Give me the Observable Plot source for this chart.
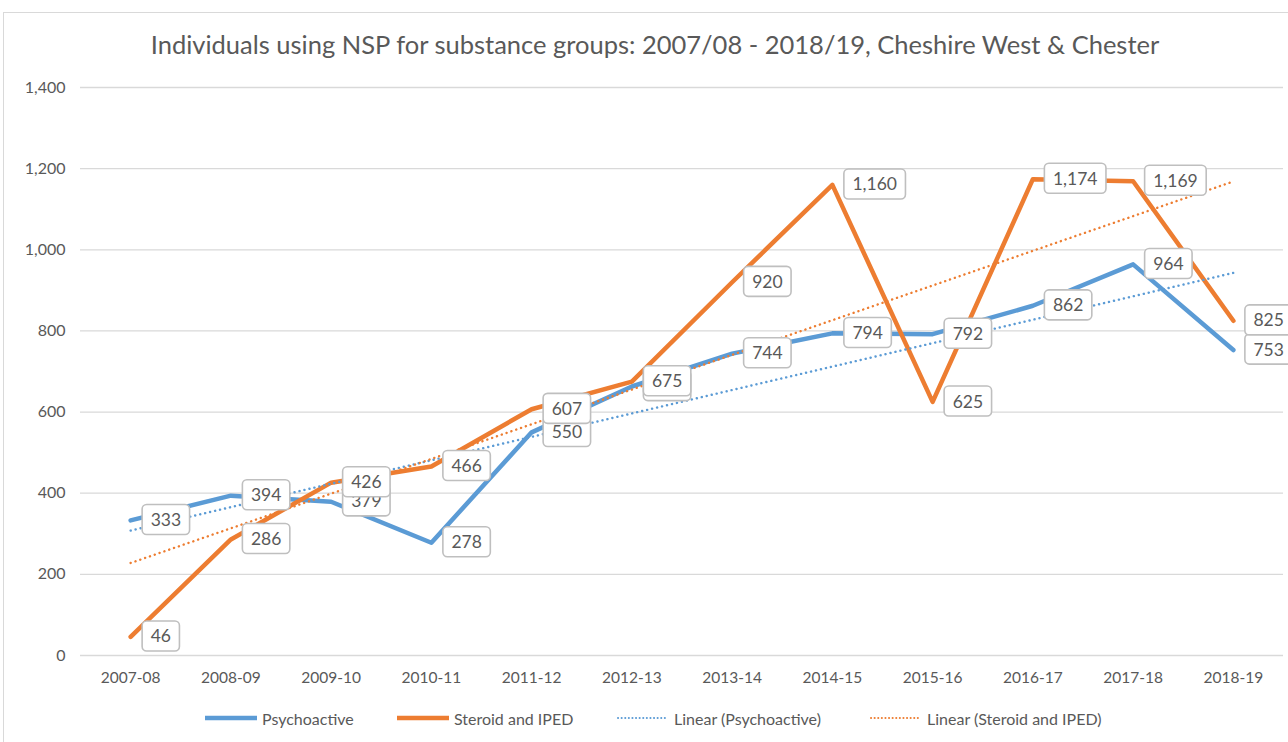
<!DOCTYPE html>
<html>
<head>
<meta charset="utf-8">
<script src="https://cdn.jsdelivr.net/npm/d3@7"></script>
<script src="https://cdn.jsdelivr.net/npm/@observablehq/plot@0.6"></script>
<style>
  html, body { margin: 0; padding: 0; background: #fff; width: 1288px; height: 742px; overflow: hidden; }
  #frame { position: absolute; left: 3px; top: 12px; width: 1300px; height: 760px; border: 1px solid #d9d9d9; box-sizing: border-box; }
  #title { position: absolute; left: 0; top: 29px; width: 1310px; text-align: center; font-family: Lato, "Open Sans", sans-serif; font-size: 25.5px; color: #595959; }
  #chart { position: absolute; left: 0; top: 70px; }
  #legend { position: absolute; top: 707px; left: 0; width: 1288px; height: 24px; font-family: Lato, sans-serif; font-size: 16px; color: #595959; }
  .li { position: absolute; top: 0; display: flex; align-items: center; height: 22px; white-space: nowrap; }
  .li svg { margin-right: 4px; }
</style>
</head>
<body>
<div id="frame"></div>
<div id="title">Individuals using NSP for substance groups: 2007/08 - 2018/19, Cheshire West &amp; Chester</div>
<div id="chart"></div>
<div id="legend"></div>
<script>
const categories = ["2007-08","2008-09","2009-10","2010-11","2011-12","2012-13","2013-14","2014-15","2015-16","2016-17","2017-18","2018-19"];
const psychoactive = [333, 394, 379, 278, 550, 663, 744, 794, 792, 862, 964, 753];
const steroid = [46, 286, 426, 466, 607, 675, 920, 1160, 625, 1174, 1169, 825];
const yTicks = [0, 200, 400, 600, 800, 1000, 1200, 1400];
const seriesNames = ["Psychoactive", "Steroid and IPED", "Linear (Psychoactive)", "Linear (Steroid and IPED)"];
const colors = ["#5B9BD5", "#ED7D31"];

const psyRows = categories.map((c, i) => ({i, cat: c, value: psychoactive[i]}));
const steRows = categories.map((c, i) => ({i, cat: c, value: steroid[i]}));
const fmt = d3.format(",");

const chart = Plot.plot({
  width: 1288,
  height: 620,
  marginTop: 17,
  marginBottom: 35,
  marginLeft: 80,
  marginRight: 5,
  style: {fontFamily: "Lato, sans-serif", fontSize: "15px", color: "#595959", background: "transparent"},
  x: {domain: [-0.5, 11.5]},
  y: {domain: [0, 1400]},
  marks: [
    Plot.gridY(yTicks, {stroke: "#d9d9d9", strokeOpacity: 1, strokeWidth: 1.3}),
    Plot.axisY(yTicks, {tickSize: 0, tickPadding: 15, tickFormat: fmt, label: null, fontSize: 16, fill: "#595959"}),
    Plot.axisX(d3.range(12), {tickSize: 0, tickPadding: 16, tickFormat: i => categories[i], label: null, fontSize: 15.5, fill: "#595959"}),
    Plot.lineY(psyRows, {x: "i", y: "value", stroke: colors[0], strokeWidth: 4.5}),
    Plot.lineY(steRows, {x: "i", y: "value", stroke: colors[1], strokeWidth: 4.5}),
    Plot.linearRegressionY(psyRows, {x: "i", y: "value", stroke: colors[0], strokeWidth: 2.4, strokeDasharray: "0.1,5", strokeLinecap: "round", ci: 0}),
    Plot.linearRegressionY(steRows, {x: "i", y: "value", stroke: colors[1], strokeWidth: 2.4, strokeDasharray: "0.1,5", strokeLinecap: "round", ci: 0}),
    Plot.text(psyRows, {x: "i", y: "value", text: d => fmt(d.value), textAnchor: "start", dx: 20, fontSize: 17.5, fill: "#595959", className: "dlabel"}),
    Plot.text(steRows, {x: "i", y: "value", text: d => fmt(d.value), textAnchor: "start", dx: 20, fontSize: 17.5, fill: "#595959", className: "dlabel"})
  ]
});
document.getElementById("chart").appendChild(chart);

// rounded boxes behind the data labels
document.querySelectorAll("#chart g.dlabel text").forEach(t => {
  const b = t.getBBox();
  const r = document.createElementNS("http://www.w3.org/2000/svg", "rect");
  r.setAttribute("x", b.x - 8.5);
  r.setAttribute("y", b.y - 4.5);
  r.setAttribute("width", b.width + 17);
  r.setAttribute("height", b.height + 9);
  r.setAttribute("rx", 4.5);
  r.setAttribute("fill", "#ffffff");
  r.setAttribute("stroke", "#bfbfbf");
  r.setAttribute("stroke-width", 1.6);
  const tr = t.getAttribute("transform");
  if (tr) r.setAttribute("transform", tr);
  t.parentNode.insertBefore(r, t);
});

// legend
const legendItems = [
  {name: seriesNames[0], color: colors[0], dash: null, left: 204},
  {name: seriesNames[1], color: colors[1], dash: null, left: 396},
  {name: seriesNames[2], color: colors[0], dash: "0.1,3.5", left: 616},
  {name: seriesNames[3], color: colors[1], dash: "0.1,3.5", left: 869}
];
const legend = document.getElementById("legend");
legendItems.forEach(it => {
  const div = document.createElement("div");
  div.className = "li";
  div.style.left = it.left + "px";
  const sw = it.dash
    ? `<svg width="54" height="10"><line x1="2" y1="5" x2="52" y2="5" stroke="${it.color}" stroke-width="2" stroke-linecap="round" stroke-dasharray="${it.dash}"/></svg>`
    : `<svg width="54" height="10"><line x1="1" y1="5" x2="53" y2="5" stroke="${it.color}" stroke-width="4.5"/></svg>`;
  div.innerHTML = sw + `<span>${it.name}</span>`;
  legend.appendChild(div);
});
</script>
</body>
</html>
